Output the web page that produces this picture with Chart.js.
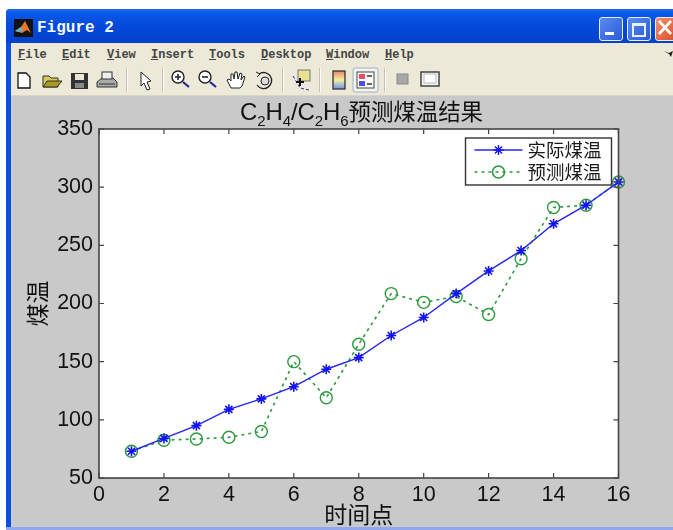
<!DOCTYPE html>
<html>
<head>
<meta charset="utf-8">
<script src="https://cdn.jsdelivr.net/npm/chart.js@4/dist/chart.umd.min.js"></script>
<style>
html, body { margin: 0; padding: 0; background: #fff; overflow: hidden; }
#page { position: relative; width: 673px; height: 530px; overflow: hidden; filter: blur(0.35px); }
#page div, #page svg { position: absolute; }
#frame { left: 6px; top: 9px; width: 667px; height: 521px; background: #0a50e0; border-radius: 4px 0 0 0; }
#titlebar { left: 6px; top: 9px; width: 667px; height: 34px; background: linear-gradient(#1a6cf0 0, #0a58e8 12%, #0348d8 55%, #0440cc 100%); border-radius: 4px 0 0 0; }
#titletext { left: 37px; top: 19px; color: #f4f8ff; font: bold 16px/18px "Liberation Mono", monospace; white-space: nowrap; }
#menubar { left: 11px; top: 43px; width: 662px; height: 22px; background: #ece9d8; border-bottom: 1px solid #cfccbc; }
#toolbar { left: 11px; top: 65px; width: 662px; height: 30px; background: #ece9d8; border-bottom: 1px solid #d8d5c6; }
#figure { left: 11px; top: 96px; width: 662px; height: 431px; background: #c9c9c9; }
#bottomline { left: 6px; top: 527px; width: 667px; height: 3px; background: #8fa8f0; }
.menu { top: 47px; font: bold 12px/16px "Liberation Mono", monospace; color: #444; white-space: nowrap; }
.menu u { text-decoration-thickness: 1px; }
.sep { top: 68px; width: 1px; height: 24px; background: #c4c1b2; border-right: 1px solid #fbfaf4; }
.wbtn { top: 17px; height: 22px; border: 1px solid #e8eefc; border-radius: 3px; }
#plotTitle { left: 200px; top: 94px; width: 323px; text-align: center; font: 24px/32px "Liberation Sans", sans-serif; color: #111; white-space: nowrap; letter-spacing: -0.1px; }
#plotTitle sub { font-size: 15px; line-height: 0; vertical-align: -6px; }
#plotTitle span { font: 22.5px/32px "Noto Sans CJK SC", sans-serif; }
canvas { position: absolute; left: 0; top: 0; }
</style>
</head>
<body>
<div id="page">
  <div id="frame"></div>
  <div id="titlebar"></div>
  <svg style="left:14px;top:19px" width="19" height="18" viewBox="0 0 19 18">
    <rect width="19" height="18" fill="#111"/>
    <path d="M1 12 L7 8 L11 2 L17 14 L13 11 L8 14 Z" fill="#e8792a"/>
    <path d="M1 12 L7 8 L9 11 L5 13 Z" fill="#5fb8d8"/>
  </svg>
  <div id="titletext">Figure 2</div>
  <div class="wbtn" style="left:599px;width:22px;background:linear-gradient(135deg,#5a8cf0,#2a5ad8)"></div>
  <div style="left:605px;top:32px;width:9px;height:3px;background:#fff"></div>
  <div class="wbtn" style="left:627px;width:22px;background:linear-gradient(135deg,#5a8cf0,#2a5ad8)"></div>
  <div style="left:632px;top:23px;width:10px;height:9px;border:2px solid #e8f0ff;border-top-width:3px"></div>
  <div class="wbtn" style="left:655px;width:24px;background:linear-gradient(135deg,#f09070,#d84a20)"></div>
  <svg style="left:658px;top:20px" width="15" height="16"><path d="M1 1 L13 14 M13 1 L1 14" stroke="#fff" stroke-width="2.6"/></svg>

  <div id="menubar"></div>
  <div class="menu" style="left:18px"><u>F</u>ile</div>
  <div class="menu" style="left:62px"><u>E</u>dit</div>
  <div class="menu" style="left:107px"><u>V</u>iew</div>
  <div class="menu" style="left:151px"><u>I</u>nsert</div>
  <div class="menu" style="left:209px"><u>T</u>ools</div>
  <div class="menu" style="left:261px"><u>D</u>esktop</div>
  <div class="menu" style="left:326px"><u>W</u>indow</div>
  <div class="menu" style="left:385px"><u>H</u>elp</div>
  <svg style="left:664px;top:50px" width="9" height="8"><path d="M0 1 L5 3 L9 1 L7 7 L5 4 Z" fill="#222"/></svg>

  <div id="toolbar"></div>
  <svg style="left:0;top:65px" width="460" height="30" viewBox="0 65 460 30">
    <!-- new -->
    <path d="M18 73 H26 L30 77 V88 H18 Z" fill="#fff" stroke="#111" stroke-width="1.3"/>
    <!-- open -->
    <path d="M43 87 V76 H49 L51 78 H58 V87 Z" fill="#d8c860" stroke="#333"/>
    <path d="M43 87 L47 81 H62 L57 87 Z" fill="#a89a20" stroke="#333"/>
    <!-- save -->
    <rect x="71" y="73" width="17" height="16" fill="#333"/><rect x="75" y="74" width="9" height="6" fill="#e8e8d8"/><rect x="75" y="83" width="9" height="5" fill="#888"/>
    <!-- print -->
    <path d="M97 82 L102 78 H113 L117 82 V87 H97 Z" fill="#aaa" stroke="#333"/><rect x="102" y="72" width="10" height="7" fill="#eee" stroke="#333"/><path d="M99 84 H115" stroke="#333"/>
    <!-- arrow -->
    <path d="M141 72 V86 L144 83 L147 90 L150 89 L147 82 L151 81 Z" fill="#fff" stroke="#222"/>
    <!-- zoom in -->
    <circle cx="178" cy="77" r="6" fill="#fff" stroke="#222" stroke-width="1.4"/><path d="M175 77 H181 M178 74 V80" stroke="#222" stroke-width="1.6"/><path d="M183 82 L189 87" stroke="#23249a" stroke-width="2.2"/>
    <!-- zoom out -->
    <circle cx="205" cy="77" r="6" fill="#fff" stroke="#222" stroke-width="1.4"/><path d="M202 77 H208" stroke="#222" stroke-width="1.6"/><path d="M210 82 L216 87" stroke="#23249a" stroke-width="2.2"/>
    <!-- hand -->
    <path d="M231 88 L227 80 L229 79 L231 81 L231 74 L233 74 L234 79 L235 72 L237 72 L238 79 L240 73 L242 74 L241 80 L244 76 L245 77 L242 86 L240 88 Z" fill="#fff" stroke="#222"/>
    <!-- rotate -->
    <path d="M259 74 A8 8 0 1 1 257 85" fill="none" stroke="#222" stroke-width="1.3"/><circle cx="265" cy="81" r="4" fill="#ddd" stroke="#222"/><path d="M256 72 L260 74 L257 77" fill="none" stroke="#222"/>
    <!-- data cursor -->
    <rect x="298" y="70" width="12" height="11" fill="#e8e090" stroke="#777"/>
    <path d="M293 76 L300 88 L309 90" fill="none" stroke="#3030b0" stroke-dasharray="3 2"/><path d="M296 82 H304 M300 78 V86" stroke="#111" stroke-width="2"/>
    <!-- colorbar -->
    <defs><linearGradient id="cb" x1="0" y1="0" x2="0" y2="1"><stop offset="0" stop-color="#f08070"/><stop offset=".5" stop-color="#f0f0a0"/><stop offset="1" stop-color="#7090f0"/></linearGradient></defs>
    <rect x="333" y="71" width="12" height="18" fill="url(#cb)" stroke="#333" stroke-width="1.3"/>
    <!-- legend (pressed) -->
    <rect x="353" y="68" width="25" height="24" rx="2" fill="#f4f3ec" stroke="#9ab0d0"/>
    <rect x="357" y="72" width="17" height="16" fill="#fff" stroke="#444"/>
    <rect x="359" y="74" width="6" height="5" fill="#e85060"/><rect x="359" y="81" width="6" height="5" fill="#5050e0"/><path d="M367 76 H372 M367 84 H372" stroke="#333" stroke-width="1.4"/>
    <!-- square -->
    <rect x="397" y="74" width="11" height="10" fill="#a8a8a8" stroke="#888"/>
    <!-- window -->
    <rect x="421" y="72" width="18" height="14" fill="#f4f4f4" stroke="#444" stroke-width="1.5"/><rect x="424" y="74" width="12" height="9" fill="#fff" stroke="#bbb"/>
  </svg>
  <div class="sep" style="left:126px"></div>
  <div class="sep" style="left:162px"></div>
  <div class="sep" style="left:282px"></div>
  <div class="sep" style="left:319px"></div>
  <div class="sep" style="left:384px"></div>

  <div id="figure"></div>
  <div id="bottomline"></div>
  <canvas id="chart" width="673" height="530"></canvas>
  <div id="plotTitle">C<sub>2</sub>H<sub>4</sub>/C<sub>2</sub>H<sub>6</sub><span>预测煤温结果</span></div>
</div>

<script>
const timePoints = [1, 2, 3, 4, 5, 6, 7, 8, 9, 10, 11, 12, 13, 14, 15, 16];
const actualTemp = [73, 84, 95, 109, 118, 128.5, 143.5, 153.5, 172.5, 188, 208.5, 228, 245.5, 268.5, 284.5, 304.5];
const predictedTemp = [73, 82.5, 83.5, 85, 90, 150, 119, 165, 208.5, 201, 206, 190.5, 238.5, 282.5, 284.5, 304.5];

const toXY = values => values.map((v, i) => ({ x: timePoints[i], y: v }));
const cjk = '"Noto Sans CJK SC", sans-serif';
const darkLine = '#454545';

// axes box with MATLAB style inward ticks
const axesBox = {
    id: 'axesBox',
    beforeDatasetsDraw(chart) {
        const { ctx, chartArea: a } = chart;
        ctx.save();
        ctx.fillStyle = '#fff';
        ctx.fillRect(a.left, a.top, a.width, a.height);
        ctx.restore();
    },
    afterDatasetsDraw(chart) {
        const { ctx, chartArea: a, scales } = chart;
        ctx.save();
        ctx.strokeStyle = darkLine;
        ctx.lineWidth = 1.6;
        ctx.strokeRect(a.left, a.top, a.width, a.height);
        ctx.lineWidth = 1.2;
        ctx.beginPath();
        scales.x.ticks.forEach(t => {
            const px = scales.x.getPixelForValue(t.value);
            ctx.moveTo(px, a.bottom); ctx.lineTo(px, a.bottom - 5);
            ctx.moveTo(px, a.top); ctx.lineTo(px, a.top + 5);
        });
        scales.y.ticks.forEach(t => {
            const py = scales.y.getPixelForValue(t.value);
            ctx.moveTo(a.left, py); ctx.lineTo(a.left + 5, py);
            ctx.moveTo(a.right, py); ctx.lineTo(a.right - 5, py);
        });
        ctx.stroke();
        ctx.restore();
    }
};

// legend box inside the axes, top right
const insideLegend = {
    id: 'insideLegend',
    afterDraw(chart) {
        const { ctx, chartArea: a } = chart;
        const left = a.right - 153, top = a.top + 9;
        ctx.save();
        ctx.fillStyle = '#fff';
        ctx.strokeStyle = '#333';
        ctx.lineWidth = 1.4;
        ctx.fillRect(left, top, 146, 47);
        ctx.strokeRect(left, top, 146, 47);
        chart.data.datasets.forEach((ds, i) => {
            const y = top + 12 + i * 22;
            ctx.save();
            ctx.strokeStyle = ds.borderColor;
            ctx.lineWidth = ds.borderWidth;
            ctx.setLineDash(ds.borderDash || []);
            ctx.beginPath();
            ctx.moveTo(left + 9, y);
            ctx.lineTo(left + 57, y);
            ctx.stroke();
            ctx.setLineDash([]);
            ctx.strokeStyle = ds.pointBorderColor;
            ctx.fillStyle = 'rgba(0,0,0,0)';
            Chart.helpers.drawPoint(ctx, {
                pointStyle: ds.pointStyle,
                radius: ds.pointRadius,
                borderWidth: ds.pointBorderWidth,
                rotation: 0
            }, left + 33, y);
            ctx.restore();
            ctx.fillStyle = '#1a1a1a';
            ctx.font = '18.5px ' + cjk;
            ctx.textBaseline = 'middle';
            ctx.fillText(ds.label, left + 62, y);
        });
        ctx.restore();
    }
};

new Chart(document.getElementById('chart'), {
    type: 'line',
    data: {
        datasets: [{
            label: '实际煤温',
            data: toXY(actualTemp),
            borderColor: '#2424f4',
            backgroundColor: 'transparent',
            borderWidth: 1.4,
            pointStyle: 'star',
            pointRadius: 5,
            pointBorderColor: '#1414f0',
            pointBorderWidth: 1.6,
            clip: false,
            order: 1
        }, {
            label: '预测煤温',
            data: toXY(predictedTemp),
            borderColor: '#2b9a3c',
            backgroundColor: 'transparent',
            borderWidth: 1.6,
            borderDash: [3, 4],
            pointStyle: 'circle',
            pointRadius: 6,
            pointBorderColor: '#2b9a3c',
            pointBackgroundColor: 'transparent',
            pointBorderWidth: 1.4,
            clip: false,
            order: 2
        }]
    },
    plugins: [axesBox, insideLegend],
    options: {
        responsive: false,
        animation: false,
        layout: { padding: { left: 23, right: 54.5, top: 129, bottom: 2 } },
        plugins: { legend: { display: false }, title: { display: false }, tooltip: { enabled: false } },
        scales: {
            x: {
                type: 'linear',
                min: 0,
                max: 16,
                afterFit: s => { s.height = 50; },
                grid: { display: false, drawTicks: false },
                border: { display: false },
                ticks: { stepSize: 2, padding: 4, maxRotation: 0, color: '#111', font: { family: '"Liberation Sans"', size: 21.5 } },
                title: { display: true, text: '时间点', color: '#111', padding: 0, font: { family: cjk, size: 23 } }
            },
            y: {
                min: 50,
                max: 350,
                afterFit: s => { s.width = 76; },
                grid: { display: false, drawTicks: false },
                border: { display: false },
                ticks: { stepSize: 50, padding: 6, color: '#111', font: { family: '"Liberation Sans"', size: 21.5 } },
                title: { display: true, text: '煤温', color: '#111', padding: 0, font: { family: cjk, size: 23 } }
            }
        }
    }
});
</script>
</body>
</html>
